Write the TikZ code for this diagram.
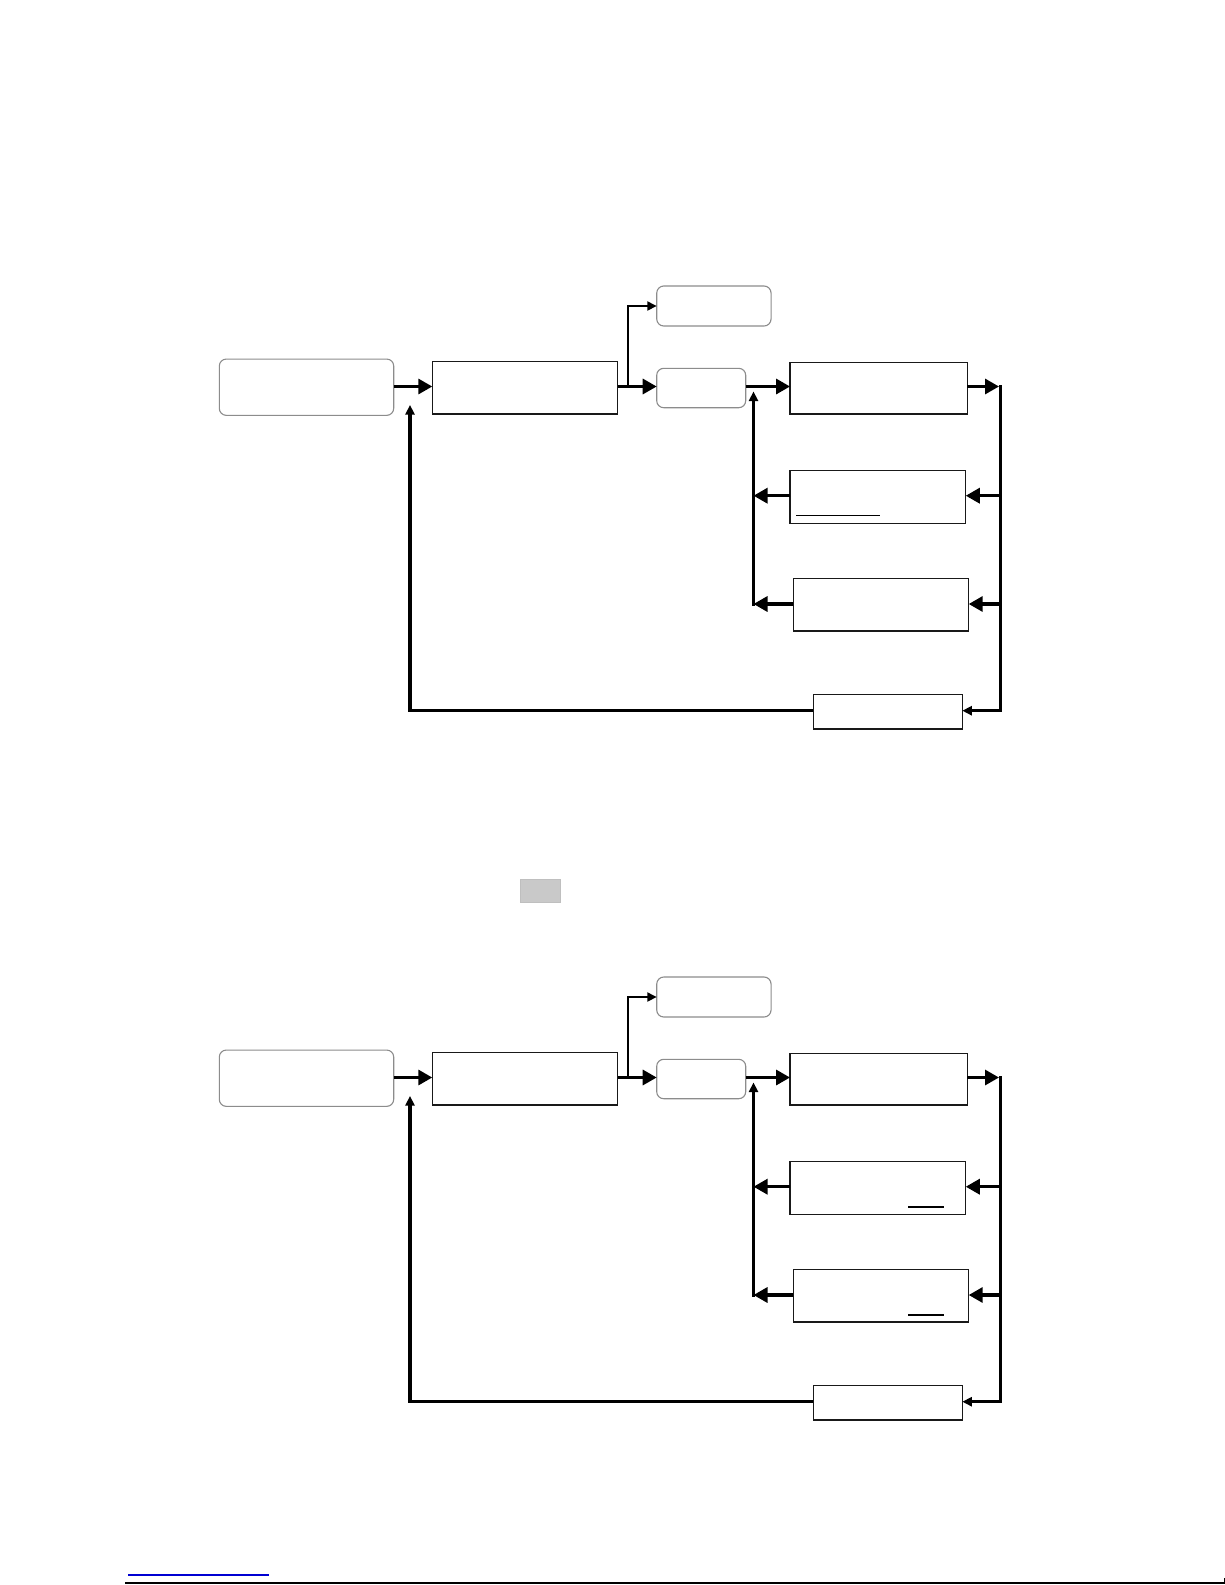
\documentclass[tikz,border=0pt]{standalone}
\usetikzlibrary{arrows.meta}
\begin{document}
\begin{tikzpicture}[x=1pt,y=-1pt,
  rbox/.style={draw=black!45,line width=1.1pt,rounded corners=7pt,inner sep=0pt,outer sep=0pt},
  sbox/.style={draw=black!90,line width=1.4pt,inner sep=0pt,outer sep=0pt},
  conn/.style={line width=3.2pt},
  thinconn/.style={line width=2pt},
  bigtip/.style={-{Triangle[length=14pt,width=15pt]}},
  smalltip/.style={-{Triangle[length=9.5pt,width=9pt]}},
  uline/.style={line width=1.2pt}]
\fill[white] (0,0) rectangle (1225,1585);
\useasboundingbox (0,0) rectangle (1225,1585);
\foreach \o/\p in {0/t,691/b}{
  \node[rbox,minimum width=174.4pt,minimum height=56.3pt] (A\p) at (306.5,387.2+\o) {};
  \node[sbox,minimum width=185.4pt,minimum height=52.7pt] (B\p) at (525,387.6+\o) {};
  \node[rbox,minimum width=114.3pt,minimum height=40pt] (C\p) at (713.9,306+\o) {};
  \node[rbox,minimum width=89pt,minimum height=39.4pt] (D\p) at (701.2,388+\o) {};
  \node[sbox,minimum width=177.3pt,minimum height=51.7pt] (E\p) at (878.7,388.2+\o) {};
  \node[sbox,minimum width=175.7pt,minimum height=52.6pt] (F\p) at (877.9,497+\o) {};
  \node[sbox,minimum width=175.4pt,minimum height=52.3pt] (G\p) at (881,604.9+\o) {};
  \node[sbox,minimum width=149pt,minimum height=34.7pt] (H\p) at (887.8,711.7+\o) {};
  % coordinates
  \coordinate (ab\p) at (393.7,386.5+\o);
  \coordinate (br\p) at (628.3,386.5+\o);
  \coordinate (rt\p) at (1000.5,385+\o);
  \coordinate (rb\p) at (1000.5,712.2+\o);
  \coordinate (re\p) at (999,386.5+\o);
  \coordinate (rf\p) at (1000.5,495.7+\o);
  \coordinate (rg\p) at (1000.5,604+\o);
  \coordinate (rh\p) at (1000.5,710.7+\o);
  \coordinate (lf\p) at (753.5,495.7+\o);
  \coordinate (lg\p) at (753.5,604+\o);
  \coordinate (lb\p) at (753.5,605.5+\o);
  \coordinate (lt\p) at (753.5,391.5+\o);
  \coordinate (up\p) at (410,405+\o);
  % connectors
  \draw[conn,bigtip] (ab\p) -- (ab\p -| B\p.west);
  \draw[conn,bigtip] (B\p.east |- br\p) -- (br\p -| D\p.west);
  \draw[thinconn,smalltip] (br\p) |- (C\p.west);
  \draw[conn,bigtip] (D\p.east |- br\p) -- (br\p -| E\p.west);
  \draw[conn,bigtip] (E\p.east |- re\p) -- (re\p);
  \draw[conn] (rt\p) -- (rb\p);
  \draw[conn,bigtip] (rf\p) -- (rf\p -| F\p.east);
  \draw[conn,bigtip] (rg\p) -- (rg\p -| G\p.east);
  \draw[conn,smalltip] (rh\p) -- (rh\p -| H\p.east);
  \draw[conn,bigtip] (F\p.west |- lf\p) -- (lf\p);
  \draw[conn,bigtip] (G\p.west |- lg\p) -- (lg\p);
  \draw[conn,smalltip] (lb\p) -- (lt\p);
  \draw[conn,smalltip] (H\p.west |- rh\p) -| (up\p);
}
% underlines
\draw[uline] (796,515.7) -- (880,515.7);
\draw[uline] (908,1207) -- (944,1207);
\draw[uline] (908,1315) -- (944,1315);
% gray box
\node[draw=black!25,fill=black!21,line width=0.8pt,inner sep=0pt,minimum width=40.7pt,minimum height=23.7pt] (gray) at (540.4,890.9) {};
% footer
\draw[line width=1.5pt,draw={rgb,255:red,0;green,0;blue,210}] (128,1575) -- (269,1575);
\draw[line width=2pt] (125,1583) -- (1225,1583);
\draw[line width=1pt] (1224.5,1578) -- (1224.5,1583);
\end{tikzpicture}
\end{document}
